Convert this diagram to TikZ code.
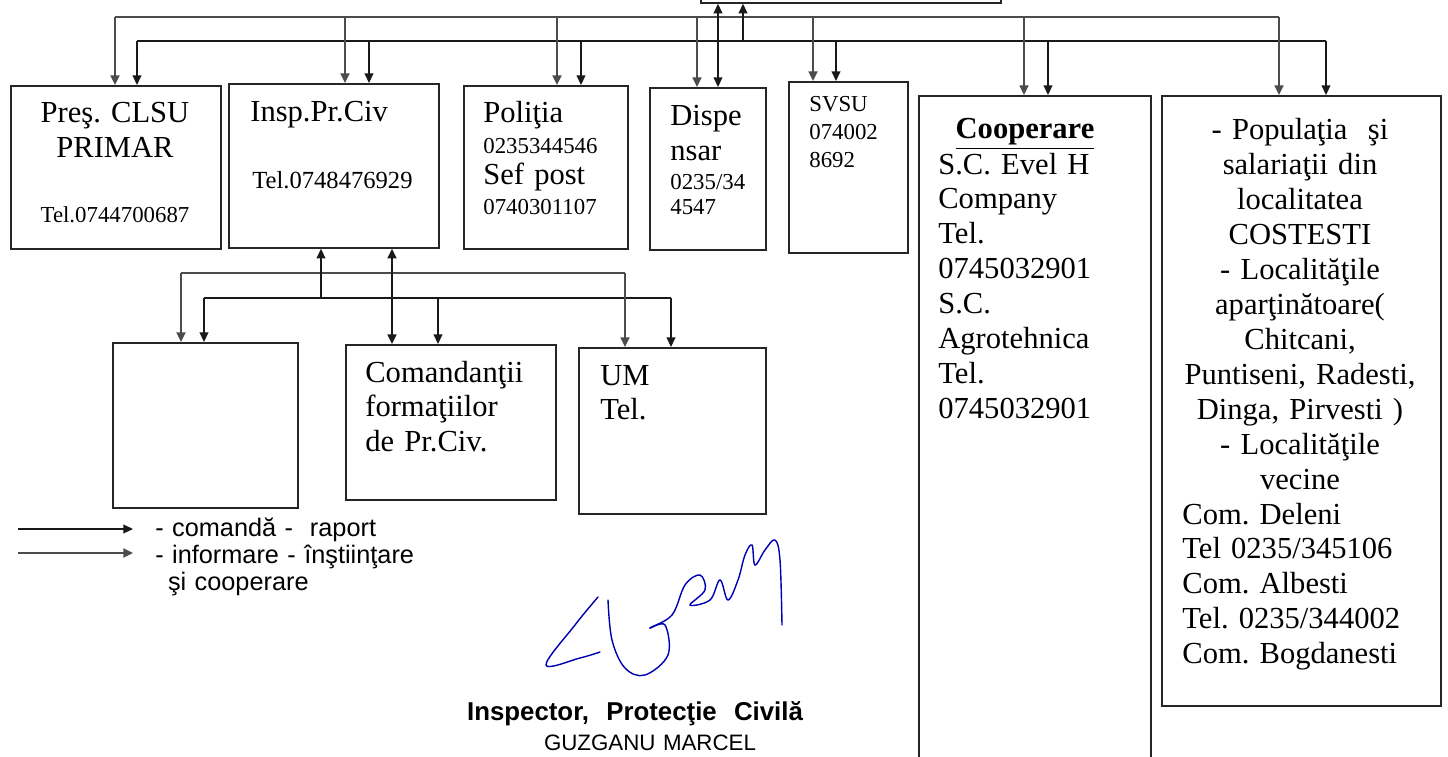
\documentclass[tikz,border=0pt]{standalone}
\usepackage{fontspec}
\setmainfont{Liberation Serif}
\setsansfont{Liberation Sans}
\usetikzlibrary{arrows.meta}
\newcommand{\bigfnt}{\fontsize{17.4pt}{19.9pt}\selectfont}
\newcommand{\smallfnt}{\fontsize{13pt}{15.9pt}\selectfont}
\newcommand{\legfnt}{\sffamily\fontsize{14.4pt}{15.6pt}\selectfont}

\begin{document}
\frenchspacing
\begin{tikzpicture}[x=0.02cm, y=-0.02cm,
    box/.style={draw=black!85, line width=1pt, inner sep=0, anchor=north west},
    txt/.style={inner sep=0, anchor=base west, align=left},
    ctxt/.style={inner sep=0, anchor=base, align=center},
    cmd/.style={draw=black!90, line width=0.9pt},
    info/.style={draw=black!70, line width=1.3pt},
    arr/.style={-{Triangle[length=5.5pt,width=5pt]}},
    arrs/.style={{Triangle[length=5.5pt,width=5pt]}-{Triangle[length=5.5pt,width=5pt]}},
  ]
  \useasboundingbox (0,0) rectangle (1448,757);

  % boxes
  \node[box, minimum width=6cm, minimum height=1.24cm] (sus) at (700,-60) {};
  \node[box, minimum width=4.2cm, minimum height=3.26cm] (pres) at (10,85) {};
  \node[box, minimum width=4.2cm, minimum height=3.28cm] (insp) at (228,83) {};
  \node[box, minimum width=3.28cm, minimum height=3.26cm] (pol) at (463,85) {};
  \node[box, minimum width=2.32cm, minimum height=3.24cm] (disp) at (649,87) {};
  \node[box, minimum width=2.38cm, minimum height=3.42cm] (svsu) at (788,81) {};
  \node[box, minimum width=4.64cm, minimum height=14.2cm] (coop) at (918,95) {};
  \node[box, minimum width=5.58cm, minimum height=12.2cm] (popu) at (1161,95) {};
  \node[box, minimum width=3.7cm, minimum height=3.3cm] (gol) at (112,342) {};
  \node[box, minimum width=4.2cm, minimum height=3.1cm] (cmdt) at (345,344) {};
  \node[box, minimum width=3.74cm, minimum height=3.32cm] (um) at (578,347) {};

  % texts
  \node[ctxt, text width=4cm, font=\bigfnt] (presT) at (115,123) {Preş. CLSU\\PRIMAR};
  \node[ctxt, text width=4cm, font=\smallfnt] (presTel) at (115,222) {Tel.0744700687};
  \node[txt, text width=4cm, font=\bigfnt] (inspT) at (250,122) {Insp.Pr.Civ};
  \node[txt, text width=4cm, font=\fontsize{14pt}{16pt}\selectfont] (inspTel) at (252,189) {Tel.0748476929};
  \node[txt, text width=3cm, font=\fontsize{17.4pt}{17.4pt}\selectfont] (polT) at (483,123)
    {Poliţia\\{\smallfnt 0235344546}\\Sef post\\{\smallfnt 0740301107}};
  \node[txt, text width=2cm, font=\bigfnt] (dispT) at (670,126) {Dispe\\nsar};
  \node[txt, text width=2cm, font=\fontsize{13pt}{14.2pt}\selectfont] (dispTel) at (670,190) {0235/34\\4547};
  \node[txt, text width=2cm, font=\smallfnt] (svsuT) at (809,112) {SVSU\\074002\\8692};
  \node[ctxt, text width=4.4cm, font=\bigfnt\bfseries] (coopH) at (1025,139) {\underline{Cooperare}};
  \node[txt, text width=4.4cm, font=\bigfnt] (coopT) at (938,174)
    {S.C. Evel H\\Company\\Tel.\\0745032901\\S.C.\\Agrotehnica\\Tel.\\0745032901};
  \node[ctxt, text width=5.4cm, font=\bigfnt] (popT) at (1300,140)
    {- Populaţia~~şi\\salariaţii din\\localitatea\hspace*{1em}\\COSTESTI\hspace*{1.5em}\\- Localităţile\\aparţinătoare(\\Chitcani,\\Puntiseni, Radesti,\\Dinga, Pirvesti )\\- Localităţile\\vecine};
  \node[txt, text width=5.4cm, font=\bigfnt] (popV) at (1182,524)
    {Com. Deleni\\Tel 0235/345106\\Com. Albesti\\Tel. 0235/344002\\Com. Bogdanesti};
  \node[txt, text width=4cm, font=\bigfnt] (cmdtT) at (365,382) {Comandanţii\\formaţiilor\\de Pr.Civ.};
  \node[txt, text width=3cm, font=\bigfnt] (umT) at (600,385) {UM\\Tel.};

  % top buses
  \coordinate (ia) at (115,17);
  \coordinate (ib) at (1279,17);
  \coordinate (ca) at (137,41);
  \coordinate (cb) at (1326,41);
  \draw[info] (ia) -- (ib);
  \draw[cmd] (ca) -- (cb);
  \foreach \x/\tgt in {115/pres,345/insp,557/pol,697/disp,813/svsu,1024/coop,1279/popu}{
    \coordinate (t) at (\x,17);
    \draw[info, arr] (t) -- (t |- \tgt.north);
  }
  \foreach \x/\tgt in {137/pres,369/insp,581/pol,836/svsu,1048/coop,1326/popu}{
    \coordinate (t) at (\x,41);
    \draw[cmd, arr] (t) -- (t |- \tgt.north);
  }
  \coordinate (dd) at (718,41);
  \draw[cmd, arrs] (dd |- sus.south) -- (dd |- disp.north);
  \coordinate (up) at (743,41);
  \draw[cmd, arr] (up) -- (up |- sus.south);

  % lower buses
  \coordinate (ja) at (181,273);
  \coordinate (jb) at (625,273);
  \coordinate (ka) at (204,298);
  \coordinate (kb) at (671,298);
  \draw[info] (ja) -- (jb);
  \draw[cmd] (ka) -- (kb);
  \draw[info, arr] (ja) -- (ja |- gol.north);
  \draw[info, arr] (jb) -- (jb |- um.north);
  \draw[cmd, arr] (ka) -- (ka |- gol.north);
  \draw[cmd, arr] (kb) -- (kb |- um.north);
  \coordinate (kc) at (438,298);
  \draw[cmd, arr] (kc) -- (kc |- cmdt.north);
  \coordinate (kd) at (321,298);
  \draw[cmd, arr] (kd) -- (kd |- insp.south);
  \coordinate (je) at (392,273);
  \draw[cmd, arrs, line width=1.2pt] (je |- insp.south) -- (je |- cmdt.north);

  % legend
  \coordinate (l1a) at (18,529);
  \coordinate (l1b) at (133,529);
  \coordinate (l2a) at (18,553);
  \coordinate (l2b) at (133,553);
  \draw[cmd, arr] (l1a) -- (l1b);
  \draw[info, arr] (l2a) -- (l2b);
  \node[txt, text width=6cm, font=\legfnt] (legT) at (155,536)
    {- comandă -~~raport\\- informare - înştiinţare\\\hspace*{0.5em}şi cooperare};

  % signature
  \draw[blue!70!black, line width=0.8pt, line cap=round] plot[smooth, tension=0.6] coordinates
    {(598,597) (575,625) (546,665) (580,658) (600,652)};
  \draw[blue!70!black, line width=0.8pt, line cap=round] plot[smooth, tension=0.6] coordinates
    {(608,600) (612,640) (625,668) (645,675) (668,655) (665,625) (650,628) (672,615) (685,585)
     (700,575) (705,590) (690,605) (710,600) (720,580) (728,600) (738,580) (745,555) (752,545)
     (755,565) (765,550) (775,540) (780,560) (782,625)};
  \node[ctxt, text width=8cm, font=\sffamily\bfseries\fontsize{14.7pt}{17pt}\selectfont] (insT) at (635,720)
    {Inspector,~~Protecţie~~Civilă};
  \node[ctxt, text width=6cm, font=\sffamily\fontsize{12.7pt}{15pt}\selectfont] (nameT) at (650,750)
    {GUZGANU MARCEL};
\end{tikzpicture}
\end{document}
